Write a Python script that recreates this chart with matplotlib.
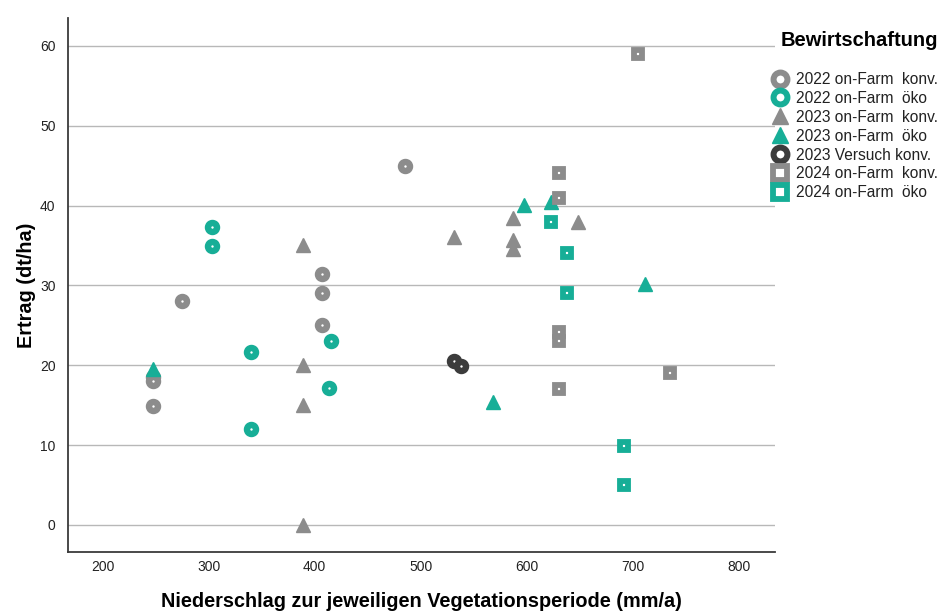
import matplotlib
matplotlib.use("Agg")
import matplotlib.pyplot as plt
from matplotlib.lines import Line2D

plt.rcParams['font.family'] = ['Liberation Sans', 'DejaVu Sans']

# ---- data ----
labels = ["2022 on-Farm  konv.", "2022 on-Farm  öko", "2023 on-Farm  konv.",
          "2023 on-Farm  öko", "2023 Versuch konv.", "2024 on-Farm  konv.",
          "2024 on-Farm  öko"]

x_2022_konv = [247.5, 247.5, 247.5, 274.8, 406.6, 406.6, 406.6, 485.2]
y_2022_konv = [18.5, 18.0, 14.9, 28.0, 31.4, 29.0, 25.0, 45.0]

x_2022_oeko = [302.8, 302.8, 339.6, 339.6, 415.1, 413.8]
y_2022_oeko = [37.3, 34.9, 21.6, 12.0, 23.0, 17.1]

x_2023_konv = [388.7, 388.7, 388.7, 388.7, 531.7, 587.4, 587.4, 587.4, 648.7]
y_2023_konv = [35.1, 20.0, 15.0, 0.0, 36.1, 38.5, 35.7, 34.5, 38.0]

x_2023_oeko = [247.5, 597.5, 622.6, 711.6, 567.9]
y_2023_oeko = [19.5, 40.1, 40.4, 30.2, 15.4]

x_2023_vers = [531.7, 537.7]
y_2023_vers = [20.5, 19.9]

x_2024_konv = [630.5, 630.5, 630.5, 630.5, 630.5, 704.7, 735.2]
y_2024_konv = [44.1, 40.9, 24.1, 23.0, 17.0, 59.0, 19.0]

x_2024_oeko = [623.0, 637.7, 637.7, 691.5, 691.5]
y_2024_oeko = [38.0, 34.0, 29.0, 9.9, 5.0]

x_ticks = [200, 300, 400, 500, 600, 700, 800]
y_ticks = [0, 10, 20, 30, 40, 50, 60]

GRAY = '#8c8c8c'
TEAL = '#17ae97'
DARK = '#3c3c3c'

series = [
    (x_2022_konv, y_2022_konv, 'o', GRAY),
    (x_2022_oeko, y_2022_oeko, 'o', TEAL),
    (x_2023_konv, y_2023_konv, '^', GRAY),
    (x_2023_oeko, y_2023_oeko, '^', TEAL),
    (x_2023_vers, y_2023_vers, 'o', DARK),
    (x_2024_konv, y_2024_konv, 's', GRAY),
    (x_2024_oeko, y_2024_oeko, 's', TEAL),
]

fig = plt.figure(figsize=(9.41, 6.15), dpi=100)
ax = fig.add_axes([68/941, 1-552/615, (775-68)/941, (552-18)/615])


def style(marker, color, legend=False):
    if marker == '^':
        return dict(marker='^', ms=12 if legend else 10, mfc=color, mec=color, mew=1)
    if marker == 's':
        return dict(marker='s', ms=9.5 if legend else 6, mfc='white', mec=color,
                    mew=4.2 if legend else 4.2)
    return dict(marker='o', ms=10 if legend else 6.5, mfc='white', mec=color,
                mew=4.3 if legend else 4.6)


handles = []
for (xs, ys, m, c), lab in zip(series, labels):
    ax.plot(xs, ys, linestyle='none', zorder=3, **style(m, c))
    handles.append(Line2D([], [], linestyle='none', **style(m, c, True)))

ax.set_xlim(167.3, 834.2)
ax.set_ylim(-3.4, 63.5)
ax.set_xticks(x_ticks)
ax.set_yticks(y_ticks)
ax.tick_params(axis='both', length=0, labelsize=10, colors='#222222', pad=9)
ax.tick_params(axis='x', pad=6)
ax.grid(axis='y', color='#b8b8b8', lw=1)
ax.set_axisbelow(True)
for s in ['top', 'right']:
    ax.spines[s].set_visible(False)
for s in ['left', 'bottom']:
    ax.spines[s].set_color('#3a3a3a')
    ax.spines[s].set_linewidth(1.3)

ax.set_xlabel("Niederschlag zur jeweiligen Vegetationsperiode (mm/a)",
              fontsize=14.3, fontweight='bold', labelpad=13)
ax.set_ylabel("Ertrag (dt/ha)", fontsize=14.3, fontweight='bold', labelpad=3)

fig.text(781/941, 1-40.7/615, "Bewirtschaftung", fontsize=14.5,
         fontweight='bold', ha='left', va='center')

leg = fig.legend(handles, labels, loc='upper left',
                 bbox_to_anchor=(774/941, 1-72/615), frameon=False,
                 fontsize=11.2, handlelength=0.8, handletextpad=0.6,
                 labelspacing=0.25, borderpad=0, borderaxespad=0)
for t in leg.get_texts():
    t.set_color('#222222')

fig.savefig("out.png", dpi=100)
